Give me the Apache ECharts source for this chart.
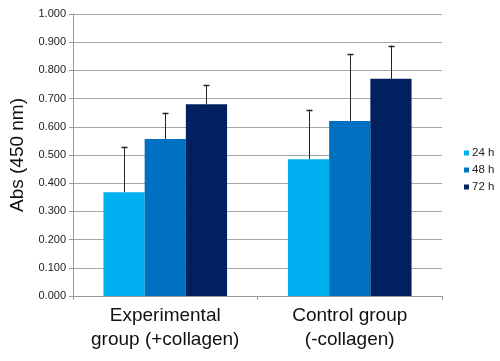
<!DOCTYPE html>
<html><head><meta charset="utf-8">
<script src="https://cdn.jsdelivr.net/npm/echarts@6/dist/echarts.min.js"></script>
<style>html,body{margin:0;padding:0;background:#fff}#c{width:500px;height:361px}</style>
</head><body><div id="c"></div>
<script>
const categories = ['Experimental\ngroup (+collagen)', 'Control group\n(-collagen)'];
const seriesNames = ['24 h', '48 h', '72 h'];
const values24 = [0.368, 0.485];
const values48 = [0.557, 0.621];
const values72 = [0.680, 0.770];
const err24 = [0.529, 0.660];
const err48 = [0.650, 0.858];
const err72 = [0.748, 0.888];
const yTicks = ['0.000','0.100','0.200','0.300','0.400','0.500','0.600','0.700','0.800','0.900','1.000'];
const colors = ['#00b0f0', '#0070c0', '#002060'];

const values = [values24, values48, values72];
const errTops = [err24, err48, err72];
const gapFrac = 0.33;
const font = 'Liberation Sans, Arial, sans-serif';

const chart = echarts.init(document.getElementById('c'), null, {renderer: 'canvas'});
const series = [];
values.forEach((v, i) => {
  series.push({
    name: seriesNames[i], type: 'bar', data: v, barGap: '0%', barCategoryGap: '33%',
    itemStyle: {color: colors[i]}, z: 2
  });
});
values.forEach((v, i) => {
  series.push({
    name: 'err' + i, type: 'custom', z: 3,
    data: v.map((val, k) => [k, val, errTops[i][k]]),
    renderItem: function (params, api) {
      const k = api.value(0);
      const catW = api.size([1, 0])[0];
      const bw = catW * (1 - gapFrac) / 3;
      const base = api.coord([k, api.value(1)]);
      const top = api.coord([k, api.value(2)]);
      const x = Math.round(base[0] + (i - 1) * bw) + 0.5;
      return {
        type: 'group',
        children: [
          {type: 'line', shape: {x1: x, y1: base[1], x2: x, y2: top[1]}, style: {stroke: '#222', lineWidth: 1}},
          {type: 'line', shape: {x1: x - 3, y1: Math.round(top[1]) + 0.5, x2: x + 3, y2: Math.round(top[1]) + 0.5}, style: {stroke: '#222', lineWidth: 1.5}}
        ]
      };
    }
  });
});

chart.setOption({
  animation: false,
  textStyle: {fontFamily: font},
  grid: {left: 72, right: 58, top: 14, bottom: 65},
  legend: {
    data: seriesNames, orient: 'vertical', left: 459, top: 142,
    itemWidth: 5, itemHeight: 5, itemGap: 5, icon: 'rect',
    textStyle: {fontSize: 11.5, color: '#222', fontFamily: font, padding: [0,0,0,-2]}
  },
  xAxis: {
    type: 'category', data: categories,
    axisLine: {lineStyle: {color: '#999'}},
    axisTick: {show: true, length: 4, lineStyle: {color: '#999'}},
    axisLabel: {interval: 0, fontSize: 19, color: '#111', lineHeight: 24, margin: 8, fontFamily: font}
  },
  yAxis: {
    type: 'value', min: 0, max: 1, interval: 0.1,
    name: 'Abs (450 nm)', nameLocation: 'middle', nameGap: 46,
    nameTextStyle: {fontSize: 19, color: '#111', fontFamily: font},
    axisLine: {show: true, lineStyle: {color: '#999'}},
    axisTick: {show: true, length: 4, lineStyle: {color: '#999'}},
    splitLine: {lineStyle: {color: '#a6a6a6', width: 1}},
    axisLabel: {fontSize: 11, color: '#222', margin: 7, fontFamily: font,
      formatter: function (v) { return yTicks[Math.round(v * 10)]; }}
  },
  series: series
});
</script></body></html>
